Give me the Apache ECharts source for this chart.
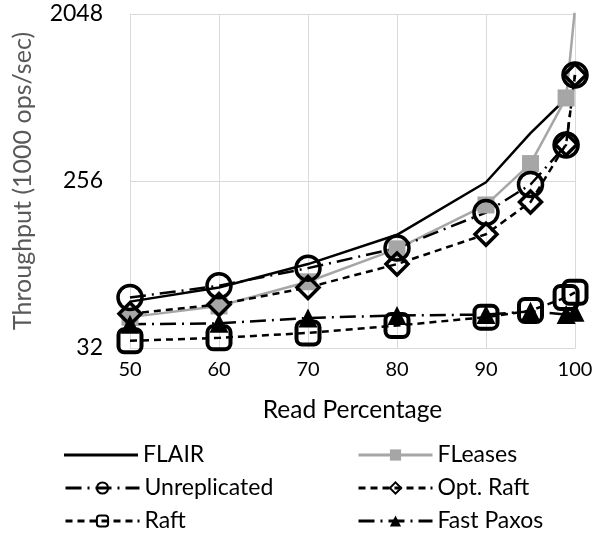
<!DOCTYPE html>
<html>
<head>
<meta charset="utf-8">
<script src="https://cdn.jsdelivr.net/npm/echarts@6/dist/echarts.min.js"></script>
<style>
  html, body { margin: 0; padding: 0; background: #fff; }
  #chart { width: 599px; height: 533px; }
</style>
</head>
<body>
<div id="chart"></div>
<script>
// Read percentage (x) and throughput in thousands of ops/sec (y, log2 scale)
const readPct = [50, 60, 70, 80, 90, 95, 99, 100];
const flair = [57, 68, 91, 131, 252, 465, 715, null];
const fleases = [47, 54, 73, 110, 190, 318, 720, 2200];
const unreplicated = [60, 69.5, 86.5, 111, 173, 245, 401, 958];
const optRaft = [49, 55, 68, 91, 132, 197, 405, 958];
const raft = [35, 36.3, 38.6, 42.3, 47, 51, 60, 64];
const fastPaxos = [43, 43.5, 46.5, 48, 48.5, 50.5, 48.5, 50];
const yTicks = [32, 256, 2048];

const FONT = 'Lato';
const pairs = vals => readPct.map((x, i) => [x, vals[i]]);
const hollow = { color: 'rgba(255,255,255,0)', borderColor: '#000', borderWidth: 3.5 };

// Legend in two columns of three rows, one legend block per entry
const legendCells = [
  ['FLAIR', 64, 443], ['Unreplicated', 64, 476], ['Raft', 64, 509],
  ['FLeases', 357, 443], ['Opt. Raft', 357, 476], ['Fast Paxos', 357, 509]
];
const legends = legendCells.map(([name, left, top]) => {
  const plain = name === 'FLAIR';
  return {
    data: [plain ? { name, icon: 'rect', itemStyle: { color: '#000' } } : name],
    left, top, itemWidth: 74, itemHeight: plain ? 3 : 14, itemGap: 0, padding: 0,
    lineStyle: { width: 3 },
    textStyle: { fontFamily: FONT, fontSize: 23, color: '#000', lineHeight: 24 }
  };
});

const chart = echarts.init(document.getElementById('chart'));
chart.setOption({
  animation: false,
  textStyle: { fontFamily: FONT },
  grid: { left: 130, right: 24, top: 14, bottom: 185 },
  xAxis: {
    type: 'value', min: 50, max: 100, interval: 10,
    name: 'Read Percentage', nameLocation: 'middle', nameGap: 50,
    nameTextStyle: { fontFamily: FONT, fontSize: 24.5, color: '#000' },
    axisLine: { lineStyle: { color: '#d9d9d9', width: 1 } },
    axisTick: { show: false },
    axisLabel: { fontFamily: FONT, fontSize: 20, color: '#000', margin: 12 },
    splitLine: { show: true, lineStyle: { color: '#d9d9d9', width: 1 } }
  },
  yAxis: {
    type: 'log', logBase: 2, min: yTicks[0], max: yTicks[yTicks.length - 1], interval: 3,
    name: 'Throughput (1000 ops/sec)', nameLocation: 'middle', nameGap: 95,
    nameTextStyle: { fontFamily: FONT, fontSize: 25, color: '#595959' },
    axisLine: { show: true, lineStyle: { color: '#d9d9d9', width: 1 } },
    axisTick: { show: false },
    axisLabel: { fontFamily: FONT, fontSize: 23, color: '#000', margin: 27, formatter: v => String(Math.round(v)) },
    splitLine: { show: true, lineStyle: { color: '#d9d9d9', width: 1 } }
  },
  legend: legends,
  series: [
    {
      name: 'FLAIR', type: 'line', data: pairs(flair), showSymbol: false, symbol: 'none',
      lineStyle: { color: '#000', width: 2.5 }, itemStyle: { color: '#000' }
    },
    {
      name: 'FLeases', type: 'line', data: pairs(fleases),
      symbol: 'rect', symbolSize: 17,
      lineStyle: { color: '#a6a6a6', width: 2.5 }, itemStyle: { color: '#a6a6a6' }
    },
    {
      name: 'Unreplicated', type: 'line', data: pairs(unreplicated),
      symbol: 'circle', symbolSize: 24,
      lineStyle: { color: '#000', width: 2.5, type: [16, 6, 2, 6] }, itemStyle: hollow
    },
    {
      name: 'Opt. Raft', type: 'line', data: pairs(optRaft),
      symbol: 'diamond', symbolSize: 22,
      lineStyle: { color: '#000', width: 2.5, type: [7, 5] }, itemStyle: hollow
    },
    {
      name: 'Raft', type: 'line', data: pairs(raft),
      symbol: 'roundRect', symbolSize: 23,
      lineStyle: { color: '#000', width: 2.5, type: [7, 5] },
      itemStyle: { color: 'rgba(255,255,255,0)', borderColor: '#000', borderWidth: 4 }
    },
    {
      name: 'Fast Paxos', type: 'line', data: pairs(fastPaxos),
      symbol: 'triangle', symbolSize: 19,
      lineStyle: { color: '#000', width: 2.5, type: [16, 6, 2, 6] }, itemStyle: { color: '#000' }
    }
  ]
});
</script>
</body>
</html>
